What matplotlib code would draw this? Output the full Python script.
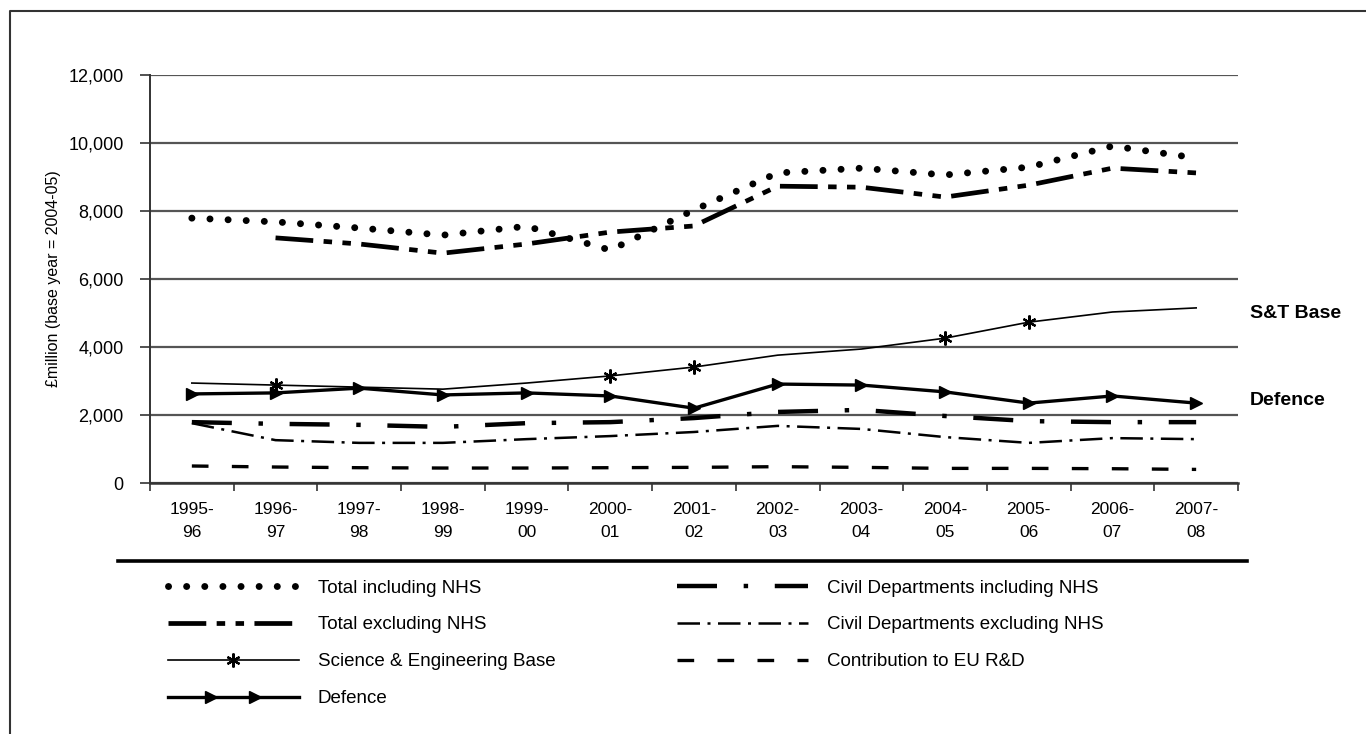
import matplotlib
matplotlib.use("Agg")
import numpy as np
import matplotlib.pyplot as plt
from matplotlib.lines import Line2D
from matplotlib.legend_handler import HandlerLine2D

plt.rcParams['font.family'] = ['Liberation Sans Narrow', 'Liberation Sans', 'DejaVu Sans']

years = ['1995-\n96', '1996-\n97', '1997-\n98', '1998-\n99', '1999-\n00', '2000-\n01',
         '2001-\n02', '2002-\n03', '2003-\n04', '2004-\n05', '2005-\n06', '2006-\n07',
         '2007-\n08']

total_incl_nhs = [7790, 7680, 7500, 7290, 7550, 6850, 8030, 9120, 9260, 9060, 9290, 9910, 9560]
# no value for 1995-96
total_excl_nhs = [None, 7210, 7030, 6760, 7030, 7380, 7560, 8730, 8700, 8410, 8760, 9260, 9120]
sci_eng_base = [2940, 2880, 2820, 2760, 2940, 3150, 3410, 3760, 3940, 4260, 4730, 5030, 5150]
defence = [2620, 2650, 2790, 2590, 2650, 2560, 2200, 2910, 2880, 2680, 2350, 2560, 2350]
civil_incl_nhs = [1790, 1740, 1710, 1650, 1760, 1790, 1910, 2090, 2150, 1970, 1820, 1790, 1790]
civil_excl_nhs = [1760, 1260, 1180, 1180, 1290, 1380, 1500, 1680, 1590, 1350, 1180, 1320, 1290]
eu_contrib = [500, 470, 450, 440, 440, 450, 460, 480, 460, 430, 430, 420, 400]

yticks = [0, 2000, 4000, 6000, 8000, 10000, 12000]


class TwoArrowHandler(HandlerLine2D):
    # full-width line, markers at one and two thirds
    def create_artists(self, legend, orig_handle, xdescent, ydescent, width, height,
                       fontsize, trans):
        xs = np.linspace(-xdescent, -xdescent + width, 4)
        ys = np.full_like(xs, (height - ydescent) / 2)
        line = Line2D(xs, ys)
        self.update_prop(line, orig_handle, legend)
        line.set_markevery([1, 2])
        line.set_transform(trans)
        return [line]


fig = plt.figure(figsize=(13.66, 7.34), dpi=100)
ax = fig.add_axes([150 / 1366, 1 - 483 / 734, 1088 / 1366, 408 / 734])

x = list(range(len(years)))
xe = [i for i, v in zip(x, total_excl_nhs) if v is not None]
ve = [v for v in total_excl_nhs if v is not None]

ax.plot(x, total_incl_nhs, color='black', lw=5.0, linestyle=(0, (0.01, 2.6)),
        dash_capstyle='round', label='Total including NHS', zorder=4)
ax.plot(xe, ve, color='black', lw=3.4, linestyle=(0, (8, 2.2, 1.8, 2.2, 1.8, 2.2)),
        label='Total excluding NHS', zorder=4)
ax.plot(x, sci_eng_base, color='black', lw=1.2, marker=(6, 2, 0), markersize=10,
        markeredgewidth=1.6, markevery=[1, 5, 6, 9, 10],
        label='Science & Engineering Base', zorder=4)
ax.plot(x, defence, color='black', lw=2.4, marker='>', markersize=9,
        label='Defence', zorder=4)
ax.plot(x, civil_incl_nhs, color='black', lw=3.2, linestyle=(0, (9, 6, 1, 6)),
        label='Civil Departments including NHS', zorder=3)
ax.plot(x, civil_excl_nhs, color='black', lw=1.8, linestyle=(0, (9, 3, 1.2, 3)),
        label='Civil Departments excluding NHS', zorder=3)
ax.plot(x, eu_contrib, color='black', lw=2.4, linestyle=(0, (5, 7)),
        label='Contribution to EU R&D', zorder=3)

ax.set_xlim(-0.5, len(years) - 0.5)
ax.set_ylim(0, 12000)
ax.set_yticks(yticks)
ax.set_yticklabels([f'{v:,}' for v in yticks], fontsize=13)
ax.set_xticks([i - 0.5 for i in range(len(years) + 1)])
ax.set_xticklabels([])
ax.set_xticks(x, minor=True)
ax.set_xticklabels(years, minor=True, fontsize=12.5, linespacing=1.6)
ax.tick_params(axis='x', which='minor', length=0, pad=14)
ax.tick_params(axis='x', which='major', length=6, width=1.2, direction='out', color='#333')
ax.tick_params(axis='y', length=7, width=1.2, color='#333', pad=12)
ax.set_ylabel('£million (base year = 2004-05)', fontsize=11.5)
ax.yaxis.set_label_coords(-0.082, 0.5)

ax.grid(axis='y', color='#555', lw=1.6)
ax.set_axisbelow(True)
for s in ['top', 'right']:
    ax.spines[s].set_visible(False)
ax.spines['left'].set_color('#333')
ax.spines['bottom'].set_color('#333')
ax.spines['left'].set_linewidth(1.4)
ax.spines['bottom'].set_linewidth(1.8)

fig.text(1250 / 1366, 1 - 313 / 734, 'S&T Base', fontsize=14, fontweight='bold',
         va='center', ha='left', family=['Liberation Sans', 'DejaVu Sans'])
fig.text(1250 / 1366, 1 - 400 / 734, 'Defence', fontsize=14, fontweight='bold',
         va='center', ha='left', family=['Liberation Sans', 'DejaVu Sans'])

# rule under the axis labels and the outer frame
fig.add_artist(Line2D([118 / 1366, 1247 / 1366], [1 - 561 / 734] * 2, color='black', lw=2.6))
fig.add_artist(Line2D([10 / 1366, 10 / 1366, 1.0], [0.0, 1 - 11 / 734, 1 - 11 / 734],
                      color='#333', lw=1.5))

handles, labels = ax.get_legend_handles_labels()
leg = fig.legend(handles, labels, ncol=2, loc='upper left',
                 bbox_to_anchor=(160 / 1366, 1 - 572 / 734), frameon=False,
                 fontsize=13.5, handlelength=7.0, handletextpad=1.0,
                 columnspacing=6.5, labelspacing=1.05, borderaxespad=0,
                 handler_map={handles[3]: TwoArrowHandler()})

fig.savefig('out.png', dpi=100)
